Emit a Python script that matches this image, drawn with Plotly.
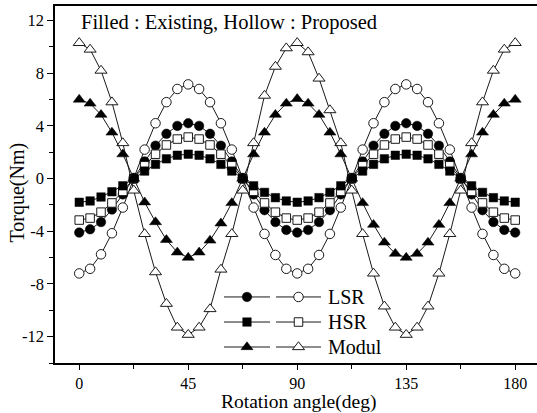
import plotly.graph_objects as go

angle = [0, 4.5, 9, 13.5, 18, 22.5, 27, 31.5, 36, 40.5, 45, 49.5, 54, 58.5, 63, 67.5, 72, 76.5, 81, 85.5,
         90, 94.5, 99, 103.5, 108, 112.5, 117, 121.5, 126, 130.5, 135, 139.5, 144, 148.5, 153, 157.5, 162, 166.5, 171, 175.5, 180]

lsr_existing = [-4.1, -3.85, -3.3, -2.35, -1.2, 0.05, 1.3, 2.5, 3.4, 4.0, 4.2, 4.0, 3.4, 2.5, 1.3, 0.05, -1.2, -2.4, -3.3, -3.9,
                -4.1, -3.9, -3.3, -2.4, -1.2, 0.05, 1.3, 2.5, 3.4, 4.0, 4.2, 4.0, 3.4, 2.5, 1.3, 0.05, -1.2, -2.4, -3.3, -3.9, -4.1]
lsr_proposed = [-7.2, -6.85, -5.75, -4.15, -2.2, 0.0, 2.2, 4.2, 5.8, 6.8, 7.15, 6.8, 5.8, 4.2, 2.2, 0.0, -2.2, -4.2, -5.8, -6.85,
                -7.2, -6.85, -5.8, -4.2, -2.2, 0.0, 2.2, 4.2, 5.8, 6.8, 7.15, 6.8, 5.8, 4.2, 2.2, 0.0, -2.2, -4.2, -5.8, -6.85, -7.2]
hsr_existing = [-1.8, -1.7, -1.4, -1.0, -0.55, 0.0, 0.57, 1.08, 1.5, 1.77, 1.85, 1.77, 1.5, 1.08, 0.57, 0.0, -0.55, -1.05, -1.45, -1.7,
                -1.8, -1.7, -1.45, -1.05, -0.55, 0.0, 0.57, 1.08, 1.5, 1.77, 1.85, 1.77, 1.5, 1.08, 0.57, 0.0, -0.55, -1.05, -1.45, -1.7, -1.8]
hsr_proposed = [-3.15, -3.0, -2.55, -1.85, -0.97, 0.0, 0.97, 1.85, 2.55, 3.0, 3.15, 3.0, 2.55, 1.85, 0.97, 0.0, -0.97, -1.85, -2.55, -3.0,
                -3.15, -3.0, -2.55, -1.85, -0.97, 0.0, 0.97, 1.85, 2.55, 3.0, 3.15, 3.0, 2.55, 1.85, 0.97, 0.0, -0.97, -1.85, -2.55, -3.0, -3.15]
modul_existing = [6.0, 5.7, 4.85, 3.5, 1.85, 0.0, -1.8, -3.3, -4.65, -5.6, -6.0, -5.6, -4.7, -3.4, -1.85, 0.0, 1.85, 3.5, 4.85, 5.7,
                  6.05, 5.7, 4.85, 3.5, 1.85, 0.0, -1.85, -3.5, -4.85, -5.7, -6.0, -5.7, -4.85, -3.5, -1.85, 0.0, 1.85, 3.5, 4.85, 5.7, 6.0]
modul_proposed = [10.3, 9.8, 8.2, 5.8, 2.7, -0.9, -4.2, -7.1, -9.5, -11.3, -11.85, -11.3, -9.9, -6.9, -4.2, -0.9, 2.7, 6.3, 8.5, 9.9,
                  10.3, 9.6, 7.6, 5.2, 2.7, -0.9, -4.2, -7.2, -9.7, -11.3, -11.85, -11.3, -9.7, -7.2, -4.2, -0.9, 2.7, 5.8, 8.2, 9.8, 10.3]

series_names = ["LSR", "HSR", "Modul"]
x_ticks = [0, 45, 90, 135, 180]
x_ticktext = ["0", "45", "90", "135", "180"]
y_ticks = [-12, -8, -4, 0, 4, 8, 12]
y_ticktext = ["-12", "-8", "-4", "0", "4", "8", "12"]

LINE = "#1a1a1a"
FONT = "Liberation Serif, Times New Roman, serif"

styles = [
    ("circle", 9.5, lsr_existing, lsr_proposed),
    ("square", 8.5, hsr_existing, hsr_proposed),
    ("triangle-up", 10.5, modul_existing, modul_proposed),
]

fig = go.Figure()
for sym, sz, filled, hollow in styles:
    fig.add_trace(go.Scatter(x=angle, y=hollow, mode="lines+markers", showlegend=False,
                             line=dict(color=LINE, width=1),
                             marker=dict(symbol=sym, size=sz, color="white", line=dict(color=LINE, width=1))))
    fig.add_trace(go.Scatter(x=angle, y=filled, mode="lines+markers", showlegend=False,
                             line=dict(color=LINE, width=1),
                             marker=dict(symbol=sym, size=sz, color="black", line=dict(color="black", width=0.5))))

# custom legend drawn on an overlay axis in plot-area fractions
leg_rows = [0.185, 0.1148, 0.0448]
fx0, fx1, fxm = 0.3506, 0.4461, 0.3983
hx0, hx1, hxm = 0.4585, 0.5519, 0.5052
for (sym, sz, _, _), yy, name in zip(styles, leg_rows, series_names):
    for a, b, m, fill in [(fx0, fx1, fxm, "black"), (hx0, hx1, hxm, "white")]:
        fig.add_trace(go.Scatter(x=[a, b], y=[yy, yy], mode="lines", xaxis="x2", yaxis="y2",
                                 showlegend=False, hoverinfo="skip", line=dict(color=LINE, width=1)))
        fig.add_trace(go.Scatter(x=[m], y=[yy], mode="markers", xaxis="x2", yaxis="y2",
                                 showlegend=False, hoverinfo="skip",
                                 marker=dict(symbol=sym, size=sz, color=fill,
                                             line=dict(color=LINE if fill == "white" else "black", width=1 if fill == "white" else 0.5))))
    fig.add_annotation(x=0.5622, y=yy, xref="paper", yref="paper", text=name, showarrow=False,
                       xanchor="left", yanchor="middle", font=dict(size=20, family=FONT, color="black"))

fig.add_annotation(x=0.05, y=0.955, xref="paper", yref="paper", text="Filled : Existing, Hollow : Proposed",
                   showarrow=False, xanchor="left", yanchor="middle", font=dict(size=20.5, family=FONT, color="black"))
fig.add_annotation(x=-0.0788, y=0.4776, xref="paper", yref="paper", text="Torque(Nm)", textangle=-90,
                   showarrow=False, xanchor="center", yanchor="middle", font=dict(size=20, family=FONT, color="black"))
fig.add_annotation(x=0.5048, y=-0.1415, xref="paper", yref="paper", text="Rotation angle(deg)",
                   showarrow=False, xanchor="center", yanchor="bottom", borderpad=0,
                   font=dict(size=19.5, family=FONT, color="black"))

fig.update_layout(
    width=537, height=413,
    margin=dict(l=55, r=0, t=6, b=50),
    paper_bgcolor="white", plot_bgcolor="white",
    font=dict(family=FONT, color="black", size=16),
    xaxis=dict(range=[-10, 189], tickmode="array", tickvals=x_ticks, ticktext=x_ticktext,
               showgrid=False, zeroline=False, showline=True, linecolor="black", linewidth=1.5, mirror=True,
               ticks="outside", ticklen=5, tickwidth=1.2, tickcolor="black",
               minor=dict(tickmode="linear", tick0=22.5, dtick=45, ticks="outside", ticklen=4, tickwidth=1.2, tickcolor="black"),
               tickfont=dict(size=16, family=FONT, color="black")),
    yaxis=dict(range=[-14, 13.1], tickmode="array", tickvals=y_ticks, ticktext=y_ticktext,
               showgrid=False, zeroline=False, showline=True, linecolor="black", linewidth=1.5, mirror=False,
               ticks="outside", ticklen=6, tickwidth=1.2, tickcolor="black",
               minor=dict(tickmode="linear", tick0=-14, dtick=2, ticks="outside", ticklen=4, tickwidth=1.2, tickcolor="black"),
               tickfont=dict(size=16.5, family=FONT, color="black")),
    xaxis2=dict(overlaying="x", anchor="y2", range=[0, 1], visible=False),
    yaxis2=dict(overlaying="y", anchor="x2", range=[0, 1], visible=False),
)

fig.write_html("out.html", config={"displayModeBar": False},
               post_script="document.body.style.margin='0';document.body.style.overflow='hidden';")
